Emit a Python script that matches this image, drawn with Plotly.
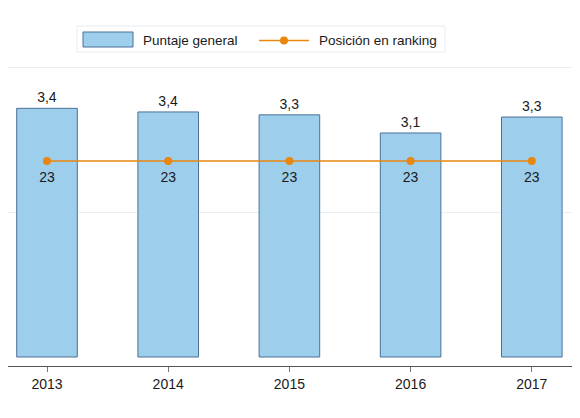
import plotly.graph_objects as go

years = ["2013", "2014", "2015", "2016", "2017"]
puntaje = [3.43, 3.38, 3.34, 3.09, 3.31]
ranking = [23, 23, 23, 23, 23]

BAR_FILL = "#9DCEEC"
BAR_EDGE = "#4D7197"
ORANGE = "#E8860F"

fig = go.Figure()
fig.add_trace(go.Bar(
    x=years, y=puntaje, name="Puntaje general",
    marker=dict(color=BAR_FILL, line=dict(color=BAR_EDGE, width=1)),
    width=0.5,
    texttemplate="%{y:.1f}", textposition="outside", cliponaxis=False,
    textfont=dict(size=14, color="#1a1a1a"),
))
fig.add_trace(go.Scatter(
    x=years, y=ranking, name="Posición en ranking", yaxis="y2",
    mode="lines+markers",
    line=dict(color=ORANGE, width=1.5),
    marker=dict(color=ORANGE, size=8),
))
# ranking labels (invisible larger marker gives a bit more offset below the point)
fig.add_trace(go.Scatter(
    x=years, y=ranking, yaxis="y2", mode="markers+text", showlegend=False,
    marker=dict(size=15, opacity=0),
    text=[str(v) for v in ranking], textposition="bottom center",
    textfont=dict(size=14, color="#1a1a1a"), hoverinfo="skip",
))

# page has an 8px body offset; figure coords = page coords - 8
OFF = 8
W, H = 580 - OFF, 418 - OFF
L, R, T, B = 0, 567, 55, 358  # figure coords of plot area
def px(x_page):
    return (x_page - OFF - L) / (R - L)
def py(y_page):
    return (B - (y_page - OFF)) / (B - T)

shapes = [
    # legend box
    dict(type="rect", xref="paper", yref="paper", x0=px(77), x1=px(445), y0=py(52), y1=py(26),
         line=dict(color="#E8ECEE", width=1), fillcolor="white"),
    # bar swatch
    dict(type="rect", xref="paper", yref="paper", x0=px(83), x1=px(133), y0=py(47), y1=py(32),
         line=dict(color=BAR_EDGE, width=1), fillcolor=BAR_FILL),
    # line swatch
    dict(type="line", xref="paper", yref="paper", x0=px(259), x1=px(309), y0=py(40.5), y1=py(40.5),
         line=dict(color=ORANGE, width=1.5)),
    dict(type="circle", xref="paper", yref="paper", x0=px(280), x1=px(288), y0=py(44.5), y1=py(36.5),
         line=dict(color=ORANGE, width=0), fillcolor=ORANGE),
]
annotations = [
    dict(text="Puntaje general", xref="paper", yref="paper", x=px(141), y=py(40.5),
         xanchor="left", yanchor="middle", showarrow=False, font=dict(size=13.5, color="#1a1a1a")),
    dict(text="Posición en ranking", xref="paper", yref="paper", x=px(317), y=py(40.5),
         xanchor="left", yanchor="middle", showarrow=False, font=dict(size=13.5, color="#1a1a1a")),
]

unit = 121.2
x0 = -(47 - OFF - L) / unit
x1 = x0 + (R - L) / unit

# primary: 0 at page y 357, 4 at page y 67 (72.5 px per unit)
ppu = 72.5
y_lo = -(366 - 357) / ppu
y_hi = y_lo + (B - T) / ppu
# secondary: 23 at page y 161
y2_hi = 23 / ((366 - 161) / (B - T))

fig.update_layout(
    width=W, height=H,
    margin=dict(l=L, r=W - R, t=T, b=H - B, autoexpand=False),
    paper_bgcolor="white", plot_bgcolor="white",
    separators=",.",
    font=dict(family="Liberation Sans, Arial, sans-serif", size=14, color="#1a1a1a"),
    showlegend=False,
    xaxis=dict(type="category", range=[x0, x1], showline=True, linecolor="#555555",
               linewidth=1, ticks="outside", ticklen=5, tickcolor="#777777",
               tickfont=dict(size=14), showgrid=False),
    yaxis=dict(range=[y_lo, y_hi], showgrid=True, gridcolor="#E8EEF0", gridwidth=1,
               tickvals=[2, 4], showticklabels=False, zeroline=False, showline=False),
    yaxis2=dict(range=[0, y2_hi], overlaying="y", side="right", visible=False,
                showgrid=False, zeroline=False),
    shapes=shapes,
    annotations=annotations,
)

fig.write_html("out.html")
